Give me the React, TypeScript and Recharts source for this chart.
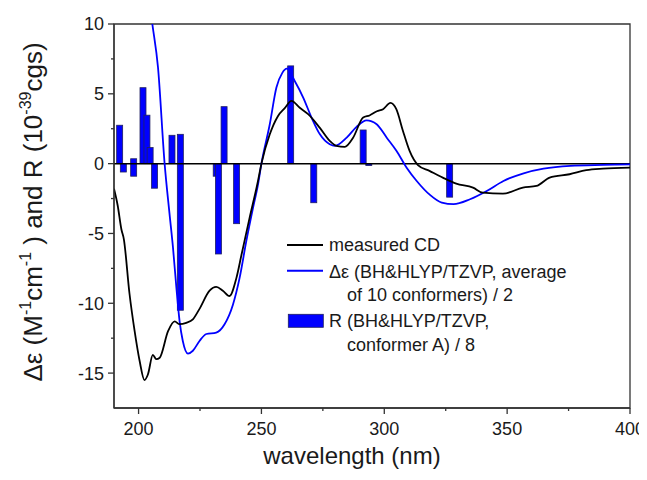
import React from "react";
import {
  ComposedChart,
  Line,
  Bar,
  XAxis,
  YAxis,
  ReferenceLine,
  ReferenceArea,
  Legend,
} from "recharts";

// measured CD spectrum
const cdWl = [190, 191.5, 193, 194, 196.3, 198.4, 200.4, 202.4, 203.8, 205.8, 207.2, 208.6, 212, 214.7, 216.7, 219.4, 222.1, 224.8, 228.9, 231.6, 234.3, 237, 239.8, 241.8, 245.2, 248.6, 250, 253.4, 256.7, 259.5, 262.2, 265.6, 269, 273.7, 277.8, 280.5, 283.9, 287.3, 291.4, 294, 297, 299.5, 302.5, 304.9, 307.6, 310.3, 313.7, 318.4, 323.8, 329.3, 336.1, 340.1, 348.3, 356.4, 361.9, 367.3, 375.4, 382.2, 389, 400];
const cdVal = [-1.8, -3.0, -4.7, -5.4, -9.3, -12.0, -14.1, -15.5, -15.1, -13.7, -14.0, -13.9, -12.0, -11.3, -11.5, -11.4, -11.15, -10.4, -9.1, -8.83, -9.1, -9.48, -8.2, -6.6, -3.87, -1.24, 0, 2.1, 3.4, 3.97, 4.5, 4.0, 3.54, 2.58, 1.63, 1.27, 1.2, 1.86, 3.3, 3.45, 3.75, 3.9, 4.35, 3.9, 2.34, 0.91, -0.1, -0.52, -1.0, -1.43, -1.72, -2.08, -2.15, -1.72, -1.6, -1.0, -0.76, -0.47, -0.36, -0.29];

// calculated Δε (average of 10 conformers) / 2
const calcWl = [203.6, 205.6, 207.9, 210.6, 212.6, 214, 215.4, 216.7, 218, 220.1, 222.1, 224.8, 227.6, 231.6, 235, 238.4, 241.1, 243.9, 246.6, 248.6, 250, 253.4, 256.1, 258.5, 260.3, 263.6, 267, 270.4, 273.8, 277.8, 279.9, 284.7, 288.7, 292.8, 296.9, 301, 305, 309.1, 313.2, 318.6, 323.4, 328.2, 334.9, 341.7, 348.5, 356.7, 364.8, 375.7, 389.3, 400];
const calcVal = [12.7, 10, 6.9, 0, -3.6, -6.0, -8.9, -11.3, -12.7, -13.6, -13.4, -12.7, -12.2, -12.1, -11.5, -10.1, -8.2, -5.5, -3.15, -1.5, 0, 2.82, 5.45, 6.5, 6.8, 5.9, 4.73, 3.3, 2.1, 1.39, 1.27, 1.86, 2.63, 3.1, 2.82, 1.86, 0.91, -0.29, -1.24, -2.24, -2.79, -2.9, -2.55, -1.96, -1.24, -0.69, -0.36, -0.16, -0.09, -0.05];

// rotational strengths R (conformer A) / 8
const barWl = [192.3, 193.8, 198.0, 198.0, 201.8, 203.4, 204.7, 206.5, 213.6, 217.0, 217.0, 231.6, 232.5, 234.8, 239.9, 261.9, 271.3, 291.4, 293.7, 326.6];
const barVal = [2.75, -0.6, 0.35, -0.9, 5.44, 3.47, 1.15, -1.76, 2.03, 2.1, -10.5, -0.9, -6.47, 4.08, -4.3, 7.0, -2.8, 2.41, -0.14, -2.4];

const xTicks = [200, 225, 250, 275, 300, 325, 350, 375, 400];
const xMajor = [200, 250, 300, 350, 400];
const yTicks = [-15, -12.5, -10, -7.5, -5, -2.5, 0, 2.5, 5, 7.5, 10];
const yMajor = [-15, -10, -5, 0, 5, 10];

type Row = { wl: number; cd?: number; calc?: number; r?: number };
const rows: Row[] = [];
cdWl.forEach((w, i) => rows.push({ wl: w, cd: cdVal[i] }));
calcWl.forEach((w, i) => rows.push({ wl: w, calc: calcVal[i] }));
barWl.forEach((w, i) => rows.push({ wl: w, r: barVal[i] }));
rows.sort((a, b) => a.wl - b.wl);

const FONT = "'Liberation Sans', Arial, sans-serif";
const AX = "#333";
const TXT = "#1a1a1a";
const BAR_W = 6;

const XTick = (props: any) => {
  const { x, y, payload } = props;
  const major = xMajor.includes(payload.value);
  return (
    <g>
      <line x1={x} x2={x} y1={y} y2={y + (major ? 6 : 3)} stroke={AX} strokeWidth={1.3} />
      {major && (
        <text x={x} y={y + 26.5} textAnchor="middle" fontSize={18} fill={TXT} fontFamily={FONT}>
          {payload.value}
        </text>
      )}
    </g>
  );
};

const YTick = (props: any) => {
  const { x, y, payload } = props;
  const major = yMajor.includes(payload.value);
  return (
    <g>
      <line x1={x} x2={x - (major ? 6 : 3)} y1={y} y2={y} stroke={AX} strokeWidth={1.3} />
      {major && (
        <text x={x - 10} y={y} dy="0.36em" textAnchor="end" fontSize={18} fill={TXT} fontFamily={FONT}>
          {payload.value}
        </text>
      )}
    </g>
  );
};

// Bar shape: keeps the library's position & height, draws a fixed visible width centred on it
const StickBar = (props: any) => {
  const { x, y, width, height } = props;
  if (x == null || y == null || !height) return null;
  const cx = x + width / 2;
  const top = height < 0 ? y + height : y;
  const h = Math.abs(height);
  return (
    <rect x={cx - BAR_W / 2} y={top} width={BAR_W} height={h} fill="#0000ff" stroke="#202060" strokeWidth={0.8} />
  );
};

const YTitle = () => (
  <text
    x={34}
    y={204}
    transform="rotate(-90, 34, 204)"
    textAnchor="middle"
    fontSize={26}
    fill={TXT}
    fontFamily={FONT}
  >
    <tspan>Δε (M</tspan>
    <tspan dy={-11} fontSize={16}>-1</tspan>
    <tspan dy={11}>cm</tspan>
    <tspan dy={-11} fontSize={16}>-1</tspan>
    <tspan dy={11}> ) and R (10</tspan>
    <tspan dy={-11} fontSize={16}>-39</tspan>
    <tspan dy={11}>cgs)</tspan>
  </text>
);

const XTitle = () => (
  <text x={344} y={456} textAnchor="middle" fontSize={24} fill={TXT} fontFamily={FONT}>
    wavelength (nm)
  </text>
);

const LegendBox = () => (
  <svg width={330} height={125} style={{ display: "block", overflow: "visible" }} fontFamily={FONT}>
    <line x1={4} x2={40} y1={12} y2={12} stroke="#000" strokeWidth={2} />
    <text x={46} y={17.7} fontSize={18} fill={TXT}>measured CD</text>
    <line x1={4} x2={40} y1={37.7} y2={37.7} stroke="#0000ff" strokeWidth={2} />
    <text x={46} y={45} fontSize={18} fill={TXT}>Δε (BH&amp;HLYP/TZVP, average</text>
    <text x={64} y={68} fontSize={18} fill={TXT}>of 10 conformers) / 2</text>
    <rect x={5.3} y={81.3} width={35} height={13} fill="#0000ff" stroke="#202060" strokeWidth={0.8} />
    <text x={46} y={94} fontSize={18} fill={TXT}>R (BH&amp;HLYP/TZVP,</text>
    <text x={64} y={118} fontSize={18} fill={TXT}>conformer A) / 8</text>
  </svg>
);

export default function App() {
  return (
    <div style={{ width: 639, height: 464, fontFamily: FONT }}>
      <ComposedChart
        width={639}
        height={464}
        data={rows}
        margin={{ top: 16, right: 17, bottom: 0, left: 0 }}
      >
        <XAxis
          dataKey="wl"
          type="number"
          domain={[190, 400]}
          ticks={xTicks}
          interval={0}
          allowDataOverflow
          height={64}
          tickSize={0}
          tickMargin={0}
          tickLine={false}
          tick={<XTick />}
          axisLine={{ stroke: AX, strokeWidth: 1.3 }}
          label={<XTitle />}
        />
        <YAxis
          type="number"
          domain={[-17.5, 10]}
          ticks={yTicks}
          interval={0}
          allowDataOverflow
          width={106}
          tickSize={0}
          tickMargin={0}
          tickLine={false}
          tick={<YTick />}
          axisLine={{ stroke: AX, strokeWidth: 1.3 }}
          label={<YTitle />}
        />
        <ReferenceArea x1={190} x2={400} y1={-17.5} y2={10} fill="none" stroke={AX} strokeWidth={1.3} />
        <Bar dataKey="r" shape={<StickBar />} fill="#0000ff" isAnimationActive={false} />
        <ReferenceLine y={0} stroke="#000" strokeWidth={1.5} />
        <Line
          dataKey="calc"
          type="monotone"
          stroke="#0000ff"
          strokeWidth={1.8}
          dot={false}
          connectNulls
          isAnimationActive={false}
        />
        <Line
          dataKey="cd"
          type="monotone"
          stroke="#000"
          strokeWidth={1.8}
          dot={false}
          connectNulls
          isAnimationActive={false}
        />
        <Legend
          layout="vertical"
          align="center"
          verticalAlign="middle"
          content={<LegendBox />}
          wrapperStyle={{ position: "absolute", left: 275, top: 225, width: 330, height: 125 }}
        />
      </ComposedChart>
    </div>
  );
}
